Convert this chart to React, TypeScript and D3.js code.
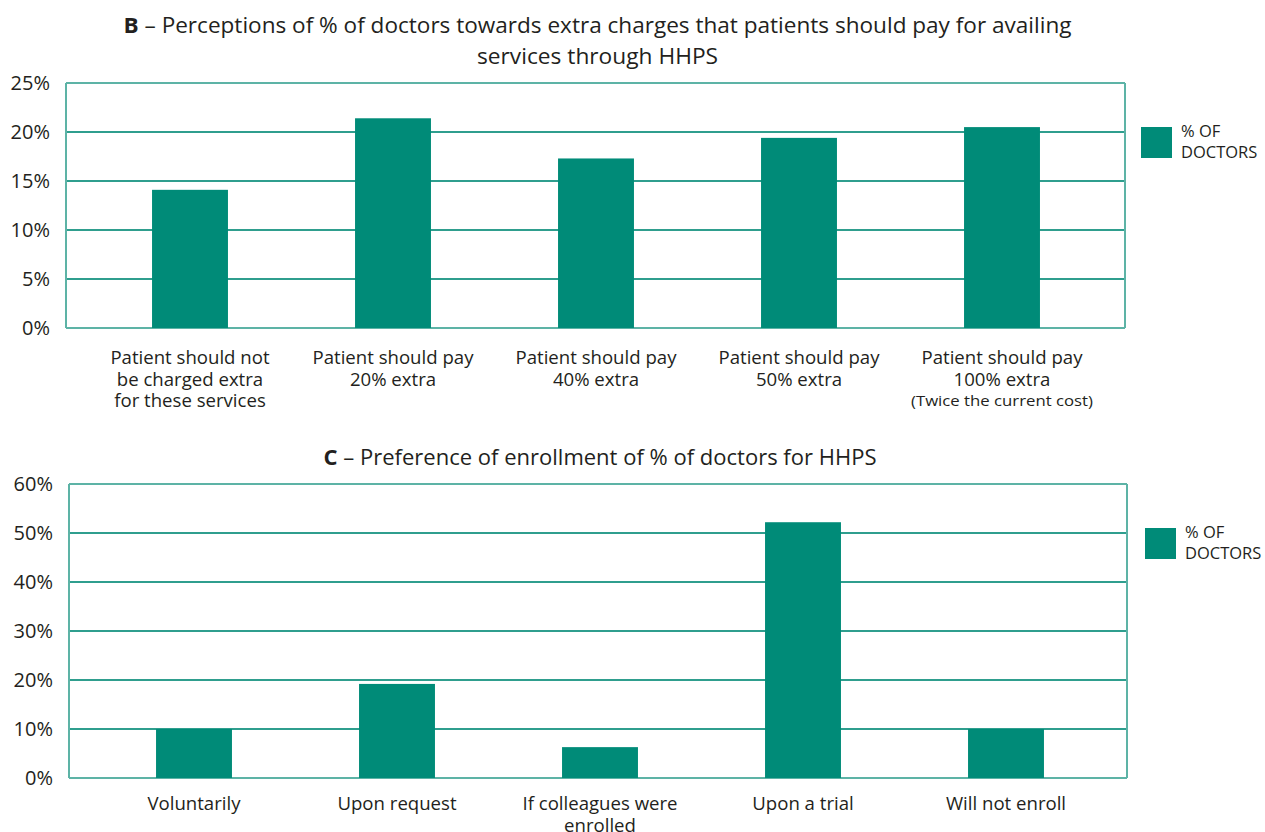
import React from "react";
import * as d3 from "d3";

// Panel B: perceived extra charges
const chargeCategories = [
  ["Patient should not", "be charged extra", "for these services"],
  ["Patient should pay", "20% extra"],
  ["Patient should pay", "40% extra"],
  ["Patient should pay", "50% extra"],
  ["Patient should pay", "100% extra"],
];
const chargeNotes = ["", "", "", "", "(Twice the current cost)"];
const chargeValues = [14.1, 21.4, 17.3, 19.4, 20.5];
const chargeTicks = [0, 5, 10, 15, 20, 25];

// Panel C: enrollment preference
const enrollCategories = [
  ["Voluntarily"],
  ["Upon request"],
  ["If colleagues were", "enrolled"],
  ["Upon a trial"],
  ["Will not enroll"],
];
const enrollValues = [10, 19.2, 6.3, 52.2, 10];
const enrollTicks = [0, 10, 20, 30, 40, 50, 60];

const seriesName = ["% OF", "DOCTORS"];

const BAR = "#008b78";
const GRID = "#2f9e8e";
const FRAME = "#5db3a6";
const TEXT = "#231f20";
const FONT = "'Open Sans', 'Noto Sans', sans-serif";

type PanelProps = {
  letter: string;
  titleLines: string[];
  titleLens: number[];
  titleY: number[];
  cats: string[][];
  notes?: string[];
  values: number[];
  ticks: number[];
  frame: { left: number; right: number; top: number; bottom: number };
  bandRange: [number, number];
  labelY: number;
  legend: { x: number; y: number };
};

function Panel(p: PanelProps) {
  const max = p.ticks[p.ticks.length - 1];
  const y = d3.scaleLinear().domain([0, max]).range([p.frame.bottom, p.frame.top]);
  const x = d3
    .scaleBand<number>()
    .domain(p.values.map((_, i) => i))
    .range(p.bandRange)
    .paddingInner(0.626)
    .paddingOuter(0.313);
  const cx = (i: number) => (x(i) as number) + x.bandwidth() / 2;
  const titleCx = (p.frame.left + p.frame.right) / 2 + 2;

  return (
    <g>
      {p.titleLines.map((line, li) => (
        <text
          key={li}
          x={titleCx}
          y={p.titleY[li]}
          textAnchor="middle"
          fontSize={22}
          fill={TEXT}
          textLength={p.titleLens[li]}
          lengthAdjust="spacingAndGlyphs"
        >
          {li === 0 ? (
            <>
              <tspan fontWeight="bold">{p.letter}</tspan>
              {" – " + line}
            </>
          ) : (
            line
          )}
        </text>
      ))}

      {/* gridlines */}
      {p.ticks.map((t) => (
        <line
          key={t}
          x1={p.frame.left}
          x2={p.frame.right}
          y1={y(t)}
          y2={y(t)}
          stroke={t === 0 || t === max ? FRAME : GRID}
          strokeWidth={2}
        />
      ))}
      <line x1={p.frame.left} x2={p.frame.left} y1={p.frame.top} y2={p.frame.bottom} stroke={FRAME} strokeWidth={2} />
      <line x1={p.frame.right} x2={p.frame.right} y1={p.frame.top} y2={p.frame.bottom} stroke={FRAME} strokeWidth={2} />

      {/* y tick labels */}
      {p.ticks.map((t) => (
        <text
          key={"t" + t}
          x={p.frame.left - 16}
          y={y(t) + 7}
          textAnchor="end"
          fontSize={20}
          fill={TEXT}
        >
          {t + "%"}
        </text>
      ))}

      {/* bars */}
      {p.values.map((v, i) => (
        <rect
          key={"b" + i}
          x={x(i)}
          y={y(v)}
          width={x.bandwidth()}
          height={y(0) - y(v)}
          fill={BAR}
        />
      ))}

      {/* category labels */}
      {p.cats.map((lines, i) => (
        <g key={"c" + i}>
          {lines.map((ln, li) => (
            <text
              key={li}
              x={cx(i)}
              y={p.labelY + li * 21.5}
              textAnchor="middle"
              fontSize={18.6}
              fill={TEXT}
            >
              {ln}
            </text>
          ))}
          {p.notes && p.notes[i] ? (
            <text
              x={cx(i)}
              y={p.labelY + lines.length * 21.5 - 1}
              textAnchor="middle"
              fontSize={15}
              fill={TEXT}
              textLength={182}
              lengthAdjust="spacingAndGlyphs"
            >
              {p.notes[i]}
            </text>
          ) : null}
        </g>
      ))}

      {/* legend */}
      <rect x={p.legend.x} y={p.legend.y} width={31} height={31} fill={BAR} />
      {seriesName.map((s, i) => (
        <text key={"l" + i} x={p.legend.x + 40} y={p.legend.y + 10 + i * 21} fontSize={16.5} fill={TEXT}>
          {s}
        </text>
      ))}
    </g>
  );
}

export default function App() {
  return (
    <svg
      width={1265}
      height={832}
      style={{ position: "absolute", left: 0, top: 0, fontFamily: FONT, background: "#fff" }}
    >
      <rect width={1265} height={832} fill="#fff" />
      <Panel
        letter="B"
        titleLines={[
          "Perceptions of % of doctors towards extra charges that patients should pay for availing",
          "services through HHPS",
        ]}
        titleLens={[948, 241]}
        titleY={[33, 64]}
        cats={chargeCategories}
        notes={chargeNotes}
        values={chargeValues}
        ticks={chargeTicks}
        frame={{ left: 66, right: 1125, top: 83, bottom: 328 }}
        bandRange={[88.5, 1103.5]}
        labelY={364}
        legend={{ x: 1141, y: 127 }}
      />
      <Panel
        letter="C"
        titleLines={["Preference of enrollment of % of doctors for HHPS"]}
        titleLens={[553]}
        titleY={[465]}
        cats={enrollCategories}
        values={enrollValues}
        ticks={enrollTicks}
        frame={{ left: 69, right: 1127, top: 484, bottom: 778 }}
        bandRange={[92.5, 1107.5]}
        labelY={810}
        legend={{ x: 1145, y: 528 }}
      />
    </svg>
  );
}
